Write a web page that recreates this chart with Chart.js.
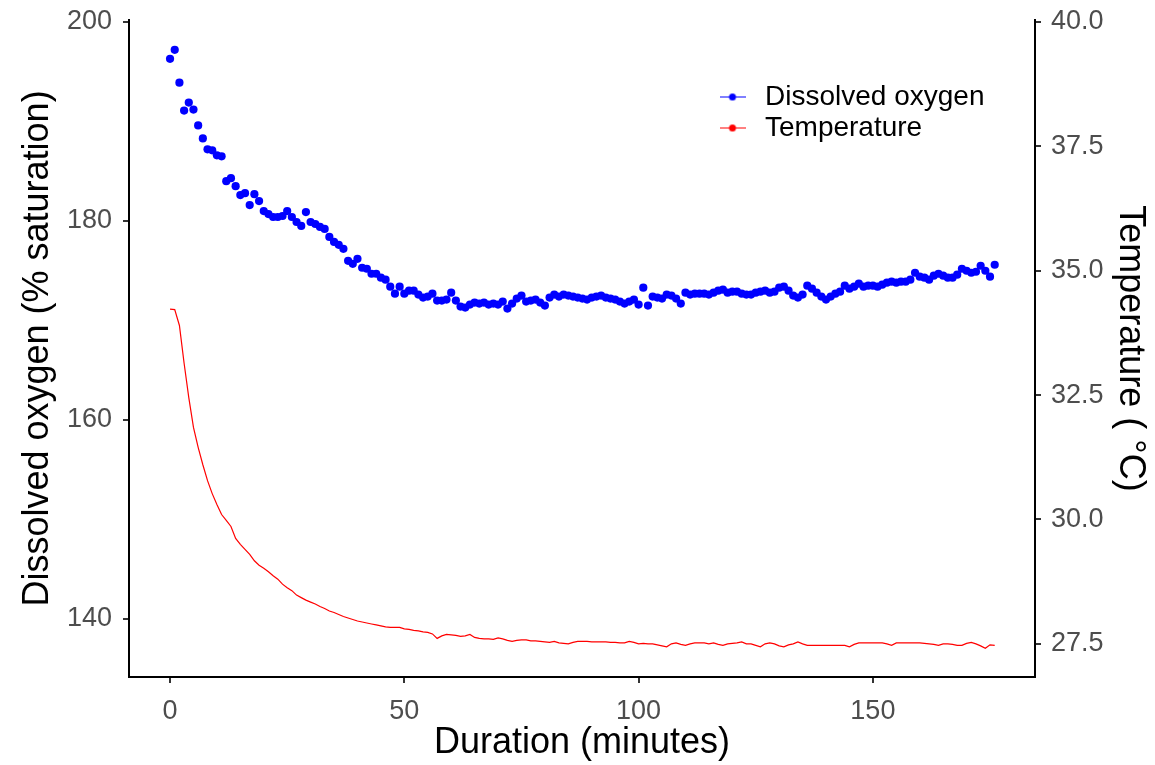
<!DOCTYPE html>
<html>
<head>
<meta charset="utf-8">
<title>Dissolved oxygen and temperature</title>
<script src="https://cdn.jsdelivr.net/npm/chart.js@4.4.1/dist/chart.umd.min.js"></script>
<style>
    html, body { margin: 0; padding: 0; background: #fff; }
    #chartBox { width: 1155px; height: 765px; }
</style>
</head>
<body>
<div id="chartBox"><canvas id="doChart" width="1155" height="765"></canvas></div>
<script>
// Readings, one sample per minute starting at minute 0
const sampleStepMin = 1;

// Dissolved oxygen (% saturation)
const doValues = [
    196.3, 197.2, 193.9, 191.1, 191.9, 191.2, 189.6, 188.3, 187.2, 187.1,
    186.6, 186.5, 184.0, 184.3, 183.5, 182.6, 182.8, 181.6, 182.7, 182.0,
    181.0, 180.7, 180.4, 180.4, 180.5, 181.0, 180.4, 179.9, 179.5, 180.9,
    179.9, 179.7, 179.4, 179.2, 178.4, 177.9, 177.6, 177.2, 176.0, 175.7,
    176.2, 175.3, 175.2, 174.7, 174.7, 174.3, 174.1, 173.4, 172.7, 173.4,
    172.7, 173.0, 173.0, 172.6, 172.3, 172.4, 172.7, 172.0, 172.0, 172.1,
    172.8, 172.0, 171.4, 171.3, 171.6, 171.8, 171.7, 171.8, 171.6, 171.7,
    171.6, 171.9, 171.2, 171.7, 172.2, 172.5, 171.9, 172.0, 172.1, 171.8,
    171.5, 172.3, 172.6, 172.4, 172.6, 172.5, 172.4, 172.3, 172.2, 172.1,
    172.3, 172.4, 172.5, 172.3, 172.2, 172.1, 171.9, 171.7, 171.9, 172.1,
    171.6, 173.3, 171.5, 172.4, 172.3, 172.2, 172.6, 172.5, 172.2, 171.7,
    172.8, 172.6, 172.7, 172.7, 172.7, 172.6, 172.8, 173.0, 173.1, 172.8,
    172.9, 172.9, 172.7, 172.6, 172.6, 172.8, 172.9, 173.0, 172.8, 172.9,
    173.3, 173.4, 173.0, 172.5, 172.3, 172.6, 173.5, 173.2, 172.8, 172.4,
    172.1, 172.4, 172.7, 172.9, 173.5, 173.2, 173.4, 173.7, 173.4, 173.5,
    173.5, 173.4, 173.6, 173.8, 173.9, 173.8, 173.9, 173.9, 174.1, 174.8,
    174.4, 174.3, 174.1, 174.5, 174.7, 174.5, 174.3, 174.3, 174.6, 175.2,
    175.0, 174.8, 174.9, 175.5, 175.0, 174.4, 175.6
];

// Temperature (°C)
const tempValues = [
    34.23, 34.22, 33.90, 33.14, 32.45, 31.85, 31.45, 31.10, 30.78, 30.52,
    30.30, 30.10, 29.98, 29.86, 29.62, 29.50, 29.40, 29.30, 29.17, 29.08,
    29.02, 28.95, 28.87, 28.80, 28.70, 28.63, 28.57, 28.48, 28.43, 28.38,
    28.34, 28.30, 28.25, 28.21, 28.16, 28.13, 28.09, 28.05, 28.02, 27.99,
    27.96, 27.94, 27.92, 27.90, 27.88, 27.86, 27.84, 27.83, 27.83, 27.83,
    27.80, 27.79, 27.77, 27.76, 27.74, 27.73, 27.70, 27.61, 27.66, 27.69,
    27.68, 27.67, 27.65, 27.66, 27.69, 27.63, 27.61, 27.60, 27.60, 27.59,
    27.62, 27.60, 27.57, 27.55, 27.57, 27.58, 27.58, 27.56, 27.56, 27.55,
    27.54, 27.53, 27.55, 27.52, 27.51, 27.50, 27.53, 27.55, 27.55, 27.55,
    27.54, 27.54, 27.54, 27.54, 27.53, 27.53, 27.52, 27.52, 27.55, 27.53,
    27.50, 27.51, 27.50, 27.50, 27.48, 27.46, 27.44, 27.50, 27.52, 27.49,
    27.47, 27.50, 27.52, 27.52, 27.52, 27.50, 27.52, 27.49, 27.47, 27.50,
    27.51, 27.52, 27.54, 27.50, 27.50, 27.47, 27.44, 27.50, 27.52, 27.50,
    27.46, 27.44, 27.48, 27.50, 27.54, 27.50, 27.47, 27.47, 27.47, 27.47,
    27.47, 27.47, 27.47, 27.47, 27.47, 27.44, 27.49, 27.52, 27.52, 27.52,
    27.52, 27.52, 27.52, 27.50, 27.47, 27.52, 27.52, 27.52, 27.52, 27.52,
    27.52, 27.51, 27.50, 27.49, 27.47, 27.50, 27.50, 27.49, 27.47, 27.47,
    27.51, 27.53, 27.50, 27.46, 27.41, 27.48, 27.47
];

// Axis ticks
const xTicks = [0, 50, 100, 150];
const doTicks = [140, 160, 180, 200];
const tempTicks = [27.5, 30.0, 32.5, 35.0, 37.5, 40.0];

const FONT = "'Liberation Sans', Arial, sans-serif";
const TICK_COLOR = '#4d4d4d';

// Right axis is the left axis divided by 5
const doMin = 134.17;
const doMax = 200.2;

/**
 * Small legend key: a short line with a dot on it
 */
function makeKey(color) {
    const c = document.createElement('canvas');
    c.width = 26;
    c.height = 9;
    const g = c.getContext('2d');
    g.strokeStyle = color;
    g.lineWidth = 1;
    g.beginPath();
    g.moveTo(0, 4.5);
    g.lineTo(26, 4.5);
    g.stroke();
    g.fillStyle = color;
    g.beginPath();
    g.arc(13, 4.5, 3.5, 0, Math.PI * 2);
    g.fill();
    return c;
}

const keyImages = [makeKey('#0000ff'), makeKey('#ff0000')];

// Fixed-size axes so the plot box sits where it does in the original
function fixSize(size) {
    return function(scale) {
        if (scale.isHorizontal()) {
            scale.height = size;
            scale.paddingLeft = 0;
            scale.paddingRight = 0;
        } else {
            scale.width = size;
            scale.paddingTop = 0;
            scale.paddingBottom = 0;
        }
    };
}

function setTicks(values) {
    return function(scale) {
        scale.ticks = values.map(v => ({ value: v }));
    };
}

// Put the legend in the top-right part of the plot
const legendPlacer = {
    id: 'legendPlacer',
    afterLayout(chart) {
        const lg = chart.legend;
        lg.left = 711;
        lg.top = 80;
        lg.right = lg.left + 320;
        lg.bottom = lg.top + 90;
        lg.width = 320;
        lg.height = 90;
    }
};

const ctx = document.getElementById('doChart').getContext('2d');

new Chart(ctx, {
    type: 'scatter',
    data: {
        datasets: [
            {
                label: 'Dissolved oxygen',
                data: doValues.map((v, i) => ({ x: i * sampleStepMin, y: v })),
                yAxisID: 'y',
                backgroundColor: '#0000ff',
                borderColor: '#0000ff',
                pointRadius: 4.1,
                pointBorderWidth: 0,
                showLine: false
            },
            {
                label: 'Temperature',
                data: tempValues.map((v, i) => ({ x: i * sampleStepMin, y: v })),
                yAxisID: 'y2',
                borderColor: '#ff0000',
                backgroundColor: '#ff0000',
                borderWidth: 1.2,
                pointRadius: 0,
                showLine: true,
                tension: 0
            }
        ]
    },
    options: {
        responsive: false,
        animation: false,
        events: [],
        layout: { padding: { top: 20, left: 0, right: 0, bottom: 0 } },
        plugins: {
            tooltip: { enabled: false },
            legend: {
                position: 'chartArea',
                align: 'start',
                labels: {
                    usePointStyle: true,
                    pointStyleWidth: 37,
                    padding: 3,
                    color: '#000',
                    font: { family: FONT, size: 28 },
                    generateLabels: function(chart) {
                        const items = Chart.defaults.plugins.legend.labels.generateLabels(chart);
                        items.forEach((it, i) => { it.pointStyle = keyImages[i]; });
                        return items;
                    }
                }
            }
        },
        scales: {
            x: {
                type: 'linear',
                position: 'bottom',
                min: -8.76,
                max: 184.6,
                afterBuildTicks: setTicks(xTicks),
                afterFit: fixSize(88),
                border: { display: true, color: '#000', width: 2 },
                grid: { drawOnChartArea: false, drawTicks: true, tickLength: 6, tickColor: '#333', lineWidth: 2 },
                ticks: { color: TICK_COLOR, font: { family: FONT, size: 27 }, padding: 12, maxRotation: 0 },
                title: {
                    display: true,
                    text: 'Duration (minutes)',
                    color: '#000',
                    font: { family: FONT, size: 36 },
                    padding: { top: 0, bottom: 0 }
                }
            },
            y: {
                type: 'linear',
                position: 'left',
                min: doMin,
                max: doMax,
                afterBuildTicks: setTicks(doTicks),
                afterFit: fixSize(129),
                border: { display: true, color: '#000', width: 2 },
                grid: { drawOnChartArea: false, drawTicks: true, tickLength: 6, tickColor: '#333', lineWidth: 2 },
                ticks: { color: TICK_COLOR, font: { family: FONT, size: 27 }, padding: 11 },
                title: {
                    display: true,
                    text: 'Dissolved oxygen (% saturation)',
                    color: '#000',
                    font: { family: FONT, size: 36 },
                    padding: { top: 16, bottom: 0 }
                }
            },
            y2: {
                type: 'linear',
                position: 'right',
                min: doMin / 5,
                max: doMax / 5,
                afterBuildTicks: setTicks(tempTicks),
                afterFit: fixSize(120),
                border: { display: true, color: '#000', width: 2 },
                grid: { drawOnChartArea: false, drawTicks: true, tickLength: 6, tickColor: '#333', lineWidth: 2 },
                ticks: {
                    color: TICK_COLOR,
                    font: { family: FONT, size: 27 },
                    padding: 10,
                    callback: function(value) {
                        return Number(value).toFixed(1);
                    }
                },
                title: {
                    display: true,
                    text: 'Temperature ( °C)',
                    color: '#000',
                    font: { family: FONT, size: 36 },
                    padding: { top: 3, bottom: 0 }
                }
            }
        }
    },
    plugins: [legendPlacer]
});
</script>
</body>
</html>
